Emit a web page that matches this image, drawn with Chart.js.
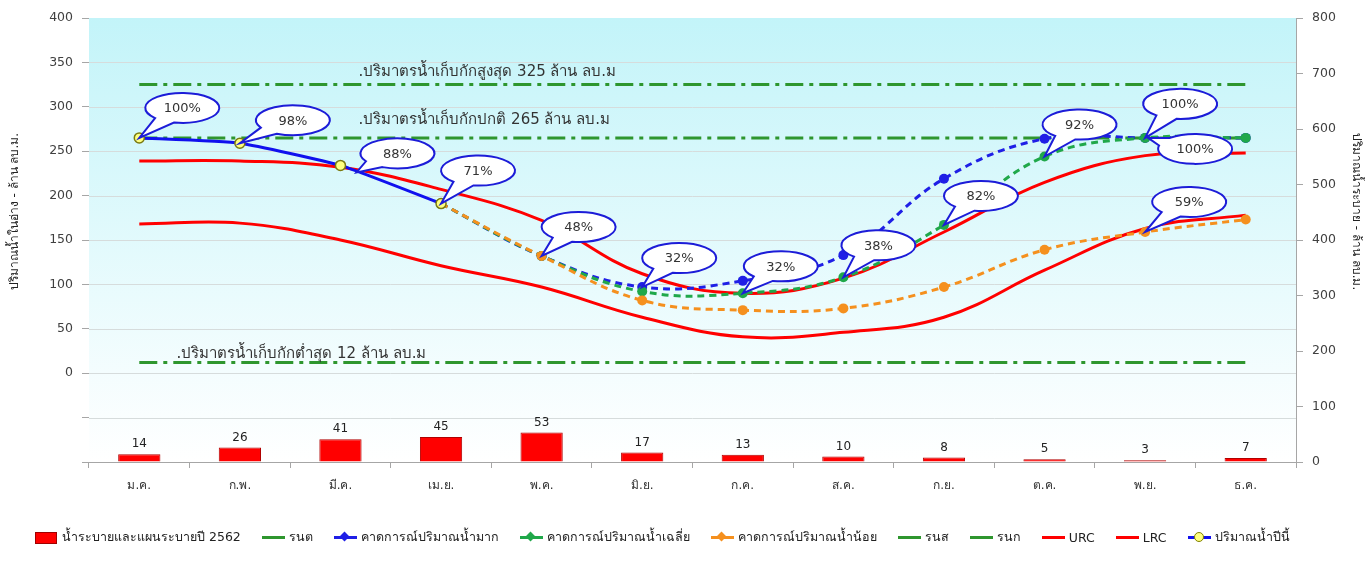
<!DOCTYPE html>
<html><head><meta charset="utf-8">
<script src="https://cdn.jsdelivr.net/npm/chart.js@4"></script>
<style>
html,body{margin:0;padding:0;background:#fff;}
#wrap{position:relative;width:1365px;height:567px;overflow:hidden;}
#c{position:absolute;left:0;top:0;}
#legend{position:absolute;left:35px;top:528px;height:18px;display:flex;align-items:center;font:12.5px "DejaVu Sans",sans-serif;color:#222;white-space:nowrap;}
.li{display:flex;align-items:center;margin-right:21px;}
.mk{position:relative;width:23px;height:12px;margin-right:4px;}
.mk .ln{position:absolute;left:0;top:5px;width:23px;height:3px;}
.mk .rc{position:absolute;left:0;top:1px;width:20px;height:10px;border:1px solid #a00000;background:#ff0000;}
.mk .dm{position:absolute;left:7px;top:2px;width:7px;height:7px;transform:rotate(45deg);}
.mk .ci{position:absolute;left:6px;top:1px;width:8px;height:8px;border-radius:50%;background:#ffff80;border:1px solid #808000;}
</style></head>
<body>
<div id="wrap"><canvas id="c" width="1365" height="567"></canvas><div id="legend"></div></div>
<script>
// ---------- data ----------
const monthLabels = ['ม.ค.','ก.พ.','มี.ค.','เม.ย.','พ.ค.','มิ.ย.','ก.ค.','ส.ค.','ก.ย.','ต.ค.','พ.ย.','ธ.ค.'];
const releasePlan = [14,26,41,45,53,17,13,10,8,5,3,7];
const thisYear = [265,259,234,191,null,null,null,null,null,null,null,null];
const forecastHigh = [null,null,null,191,132,97,104,133,219,264,265,265];
const forecastAvg  = [null,null,null,191,132,92,90,108,167,244,265,265];
const forecastLow  = [null,null,null,191,132,82,71,73,97,139,159,173];
const urc = [239,239,232,207,172,112,90,107,159,215,245,248];
const lrc = [168,169,150,121,97,63,41,46,63,116,163,178];
const minStorage = 12, maxStorage = 325, normalStorage = 265;
const minLine = monthLabels.map(() => minStorage);
const maxLine = monthLabels.map(() => maxStorage);
const normalLine = monthLabels.map(() => normalStorage);

const refTexts = ['.ปริมาตรน้ำเก็บกักสูงสุด 325 ล้าน ลบ.ม', '.ปริมาตรน้ำเก็บกักปกติ 265 ล้าน ลบ.ม', '.ปริมาตรน้ำเก็บกักต่ำสุด 12 ล้าน ลบ.ม'];
const refValues = [maxStorage, normalStorage, minStorage];

const calloutLabels = ['100%','98%','88%','71%','48%','32%','32%','38%','82%','92%','100%','100%','59%'];
const calloutMonth  = [0,1,2,3,4,5,6,7,8,9,10,10,10];
const calloutSeries = ['thisYear','thisYear','thisYear','thisYear','low','high','avg','avg','avg','avg','avg','avg','low'];

const leftTitle = 'ปริมาณน้ำในอ่าง - ล้าน ลบ.ม.';
const rightTitle = 'ปริมาณน้ำระบาย - ล้าน ลบ.ม.';

// ---------- layout / style ----------
const calloutOffset = [[43,-30],[53,-23],[57,-12],[37,-33],[37,-29],[37,-29],[38,-27],[35,-32],[37,-29],[35,-32],[35,-34],[50,11],[44,-30]];
const calloutTip    = [[0,0],[0,0],[16,7],[0,0],[0,0],[0,0],[0,0],[0,0],[0,0],[0,0],[0,0],[3,0],[0,0]];
const refTextPos = [[2.18,-12],[2.18,-18],[0.37,-8]]; // [category index, pixel dy]
const seriesMap = {thisYear, high: forecastHigh, avg: forecastAvg, low: forecastLow};
const FONT = '"DejaVu Sans", "Noto Sans", sans-serif';
const GREEN = '#2e962e', DASHDOT = [18,6,4,6];

function refDs(label, data, order){
  return {type:'line', label, data, yAxisID:'y', borderColor:GREEN, borderWidth:3, borderDash:DASHDOT,
    pointRadius:0, fill:false, order, legendStyle:'line', tension:0};
}
function fcDs(label, data, color, order){
  return {type:'line', label, data, yAxisID:'y', borderColor:color, backgroundColor:color, borderWidth:3,
    borderDash:[7,5], pointRadius:5, pointBorderWidth:0, pointBackgroundColor:color, tension:0.4, fill:false,
    order, legendStyle:'lineDiamond'};
}

const datasets = [
  {type:'bar', label:'น้ำระบายและแผนระบายปี 2562', data:releasePlan, yAxisID:'y1', backgroundColor:'#ff0000',
   borderColor:'#b00000', borderWidth:1, barPercentage:0.42, categoryPercentage:1.0, order:20, legendStyle:'rect'},
  refDs('รนต', minLine, 12),
  fcDs('คาดการณ์ปริมาณน้ำมาก', forecastHigh, '#1f1fe6', 3),
  fcDs('คาดการณ์ปริมาณน้ำเฉลี่ย', forecastAvg, '#20a84a', 2),
  fcDs('คาดการณ์ปริมาณน้ำน้อย', forecastLow, '#f5901e', 1),
  refDs('รนส', maxLine, 10),
  refDs('รนก', normalLine, 11),
  {type:'line', label:'URC', data:urc, yAxisID:'y', borderColor:'#ff0000', borderWidth:3, pointRadius:0, tension:0.4, fill:false, order:5, legendStyle:'line'},
  {type:'line', label:'LRC', data:lrc, yAxisID:'y', borderColor:'#ff0000', borderWidth:3, pointRadius:0, tension:0.4, fill:false, order:6, legendStyle:'line'},
  {type:'line', label:'ปริมาณน้ำปีนี้', data:thisYear, yAxisID:'y', borderColor:'#1010ee', borderWidth:3, pointRadius:5,
   pointBackgroundColor:'#ffff80', pointBorderColor:'#7a7a10', pointBorderWidth:1.5, tension:0.15, fill:false, order:0, legendStyle:'lineCircle'}
];

const decor = {
  id:'decor',
  beforeDatasetsDraw(chart){
    const {ctx, chartArea:a} = chart;
    ctx.save();
    const g = ctx.createLinearGradient(0, a.top, 0, a.bottom);
    g.addColorStop(0, '#c3f4f9');
    g.addColorStop(0.8, '#f4fdfe');
    g.addColorStop(1, '#ffffff');
    ctx.fillStyle = g;
    ctx.fillRect(a.left, a.top, a.right - a.left, a.bottom - a.top);
    const y = chart.scales.y;
    ctx.strokeStyle = '#d6dcdc'; ctx.lineWidth = 1;
    y.ticks.forEach(t => {
      const py = Math.round(y.getPixelForValue(t.value)) + 0.5;
      if (py > a.top + 1 && py < a.bottom - 1) { ctx.beginPath(); ctx.moveTo(a.left, py); ctx.lineTo(a.right, py); ctx.stroke(); }
    });
    ctx.restore();
  },
  afterDatasetsDraw(chart){
    const {ctx, scales:{x, y}} = chart;
    ctx.save();
    const bi = chart.data.datasets.findIndex(d => d.type === 'bar');
    const meta = chart.getDatasetMeta(bi);
    ctx.font = '12px ' + FONT; ctx.fillStyle = '#222'; ctx.textAlign = 'center'; ctx.textBaseline = 'bottom';
    meta.data.forEach((el, i) => ctx.fillText(String(releasePlan[i]), el.x, el.y - 4));
    ctx.font = '15px ' + FONT; ctx.fillStyle = '#333'; ctx.textAlign = 'left'; ctx.textBaseline = 'middle';
    refTexts.forEach((t, i) => {
      const px = x.getPixelForValue(0) + refTextPos[i][0] * (x.getPixelForValue(1) - x.getPixelForValue(0));
      ctx.fillText(t, px, y.getPixelForValue(refValues[i]) + refTextPos[i][1]);
    });
    calloutLabels.forEach((lab, i) => {
      const v = seriesMap[calloutSeries[i]][calloutMonth[i]];
      const px = x.getPixelForValue(calloutMonth[i]), py = y.getPixelForValue(v);
      const tx = px + calloutTip[i][0], ty = py + calloutTip[i][1];
      const cx = px + calloutOffset[i][0], cy = py + calloutOffset[i][1];
      const rx = 37, ry = 15;
      const t = Math.atan2((ty - cy) / ry, (tx - cx) / rx);
      const w = 0.3;
      ctx.beginPath();
      ctx.ellipse(cx, cy, rx, ry, 0, t + w, t - w + Math.PI * 2);
      ctx.lineTo(tx, ty);
      ctx.closePath();
      ctx.fillStyle = '#ffffff'; ctx.fill();
      ctx.lineWidth = 2; ctx.strokeStyle = '#1c1cd8'; ctx.stroke();
      ctx.font = '13px ' + FONT; ctx.fillStyle = '#333'; ctx.textAlign = 'center'; ctx.textBaseline = 'middle';
      ctx.fillText(lab, cx, cy + 1);
    });
    const a = chart.chartArea;
    const midY = (y.getPixelForValue(400) + y.getPixelForValue(0)) / 2 + 16;
    ctx.font = '12px ' + FONT; ctx.fillStyle = '#222';
    ctx.save(); ctx.translate(15, midY); ctx.rotate(-Math.PI/2); ctx.fillText(leftTitle, 0, 0); ctx.restore();
    ctx.save(); ctx.translate(a.right + 60, midY); ctx.rotate(Math.PI/2); ctx.fillText(rightTitle, 0, 0); ctx.restore();
    ctx.restore();
  }
};

Chart.defaults.font.family = FONT;
Chart.defaults.animation = false;

const chart = new Chart(document.getElementById('c'), {
  type:'bar',
  data:{labels:monthLabels, datasets},
  plugins:[decor],
  options:{
    responsive:false, animation:false,
    layout:{padding:{top:18, bottom:60, left:0, right:0}},
    plugins:{legend:{display:false}, tooltip:{enabled:false}},
    scales:{
      x:{offset:true, grid:{offset:true, drawOnChartArea:false, tickLength:6, color:'#a6a6a6'},
         border:{color:'#a6a6a6'}, ticks:{color:'#333', font:{size:12}, padding:11},
         afterFit(s){ s.height = 45; }},
      y:{position:'left', min:-100, max:400, ticks:{stepSize:50, color:'#404040', font:{size:12.5}, padding:9,
           callback:v => v < 0 ? '' : v},
         grid:{color:'#d6dcdc', tickLength:7, tickColor:'#a6a6a6', drawOnChartArea:false}, border:{color:'#a6a6a6'},
         afterFit(s){ s.width = 89; }},
      y1:{position:'right', min:0, max:800, ticks:{stepSize:100, color:'#404040', font:{size:12.5}, padding:9},
          grid:{drawOnChartArea:false, tickLength:7, tickColor:'#a6a6a6'}, border:{color:'#a6a6a6'},
          afterFit(s){ s.width = 69; }}
    }
  }
});

const lg = document.getElementById('legend');
chart.data.datasets.forEach(ds => {
  const it = document.createElement('div'); it.className = 'li';
  const mk = document.createElement('div'); mk.className = 'mk';
  const col = ds.borderColor;
  if (ds.legendStyle === 'rect') mk.innerHTML = '<div class="rc"></div>';
  else if (ds.legendStyle === 'line') mk.innerHTML = '<div class="ln" style="background:' + col + '"></div>';
  else if (ds.legendStyle === 'lineDiamond') mk.innerHTML = '<div class="ln" style="background:' + col + '"></div><div class="dm" style="background:' + col + '"></div>';
  else mk.innerHTML = '<div class="ln" style="background:' + col + '"></div><div class="ci"></div>';
  const tx = document.createElement('span'); tx.textContent = ds.label;
  it.appendChild(mk); it.appendChild(tx); lg.appendChild(it);
});
</script>
</body></html>
